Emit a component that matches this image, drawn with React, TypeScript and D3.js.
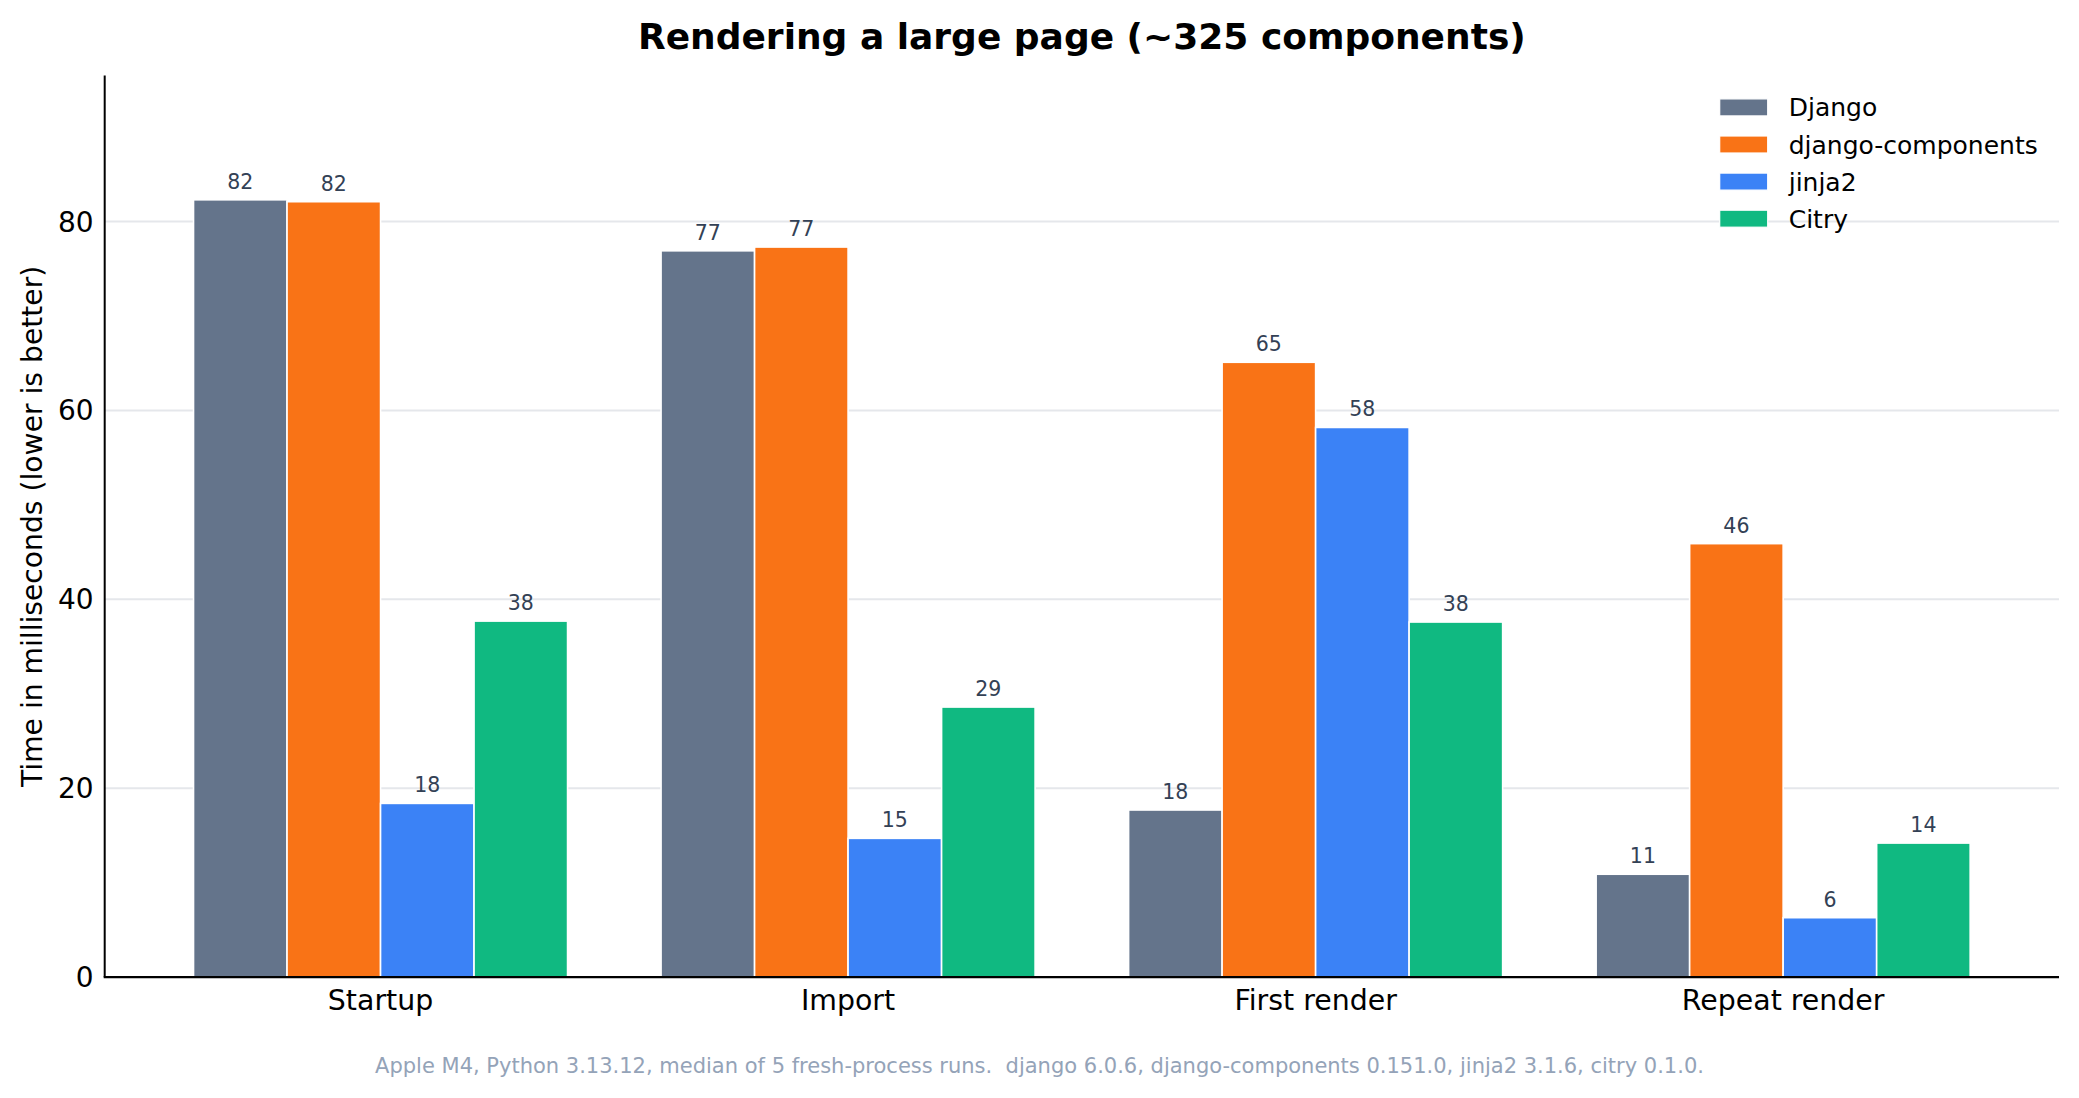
import React, { useEffect } from "react";
import * as d3 from "d3";

const categories = ["Startup", "Import", "First render", "Repeat render"];
const seriesNames = ["Django", "django-components", "jinja2", "Citry"];
const djangoValues = [82.3, 76.9, 17.7, 10.9];
const djangoComponentsValues = [82.1, 77.3, 65.1, 45.9];
const jinja2Values = [18.4, 14.7, 58.2, 6.3];
const citryValues = [37.7, 28.6, 37.6, 14.2];
const seriesColors = ["#64748b", "#f97316", "#3b82f6", "#10b981"];
const yTicks = [0, 20, 40, 60, 80];
const titleText = "Rendering a large page (~325 components)";
const yLabelText = "Time in milliseconds (lower is better)";
const footerText =
  "Apple M4, Python 3.13.12, median of 5 fresh-process runs.  django 6.0.6, django-components 0.151.0, jinja2 3.1.6, citry 0.1.0.";

const W = 2079;
const H = 1098;
const left = 104.7;
const right = 2059;
const top = 75.6;
const bottom = 977.2;
const FONT = "'DejaVu Sans', sans-serif";

export default function App() {
  useEffect(() => {
    document.body.style.margin = "0";
  }, []);

  const series = [djangoValues, djangoComponentsValues, jinja2Values, citryValues];
  const x = d3.scaleLinear().domain([-0.59, 3.59]).range([left, right]);
  const y = d3.scaleLinear().domain([0, 95.45]).range([bottom, top]);
  const barW = 0.2;
  const legendX = 1719.7;
  const legendY0 = 107.4;
  const legendStep = 37.1;

  return (
    <svg
      width={W}
      height={H}
      viewBox={`0 0 ${W} ${H}`}
      style={{ display: "block", position: "absolute", left: 0, top: 0, background: "#fff" }}
      fontFamily={FONT}
    >
      <rect x={0} y={0} width={W} height={H} fill="#fff" />
      {/* grid */}
      {yTicks.filter((t) => t > 0).map((t) => (
        <line key={"g" + t} x1={left} x2={right} y1={y(t)} y2={y(t)} stroke="#e5e7eb" strokeWidth={2} />
      ))}
      {/* bars */}
      {categories.map((c, ci) =>
        series.map((vals, si) => {
          const x0 = x(ci + (si - 2) * barW);
          const x1 = x(ci + (si - 1) * barW);
          return (
            <rect
              key={c + si}
              x={x0}
              y={y(vals[ci])}
              width={x1 - x0}
              height={y(0) - y(vals[ci])}
              fill={seriesColors[si]}
              stroke="#fff"
              strokeWidth={1.6}
            />
          );
        })
      )}
      {/* value labels */}
      {categories.map((c, ci) =>
        series.map((vals, si) => (
          <text
            key={"l" + c + si}
            x={x(ci + (si - 1.5) * barW)}
            y={y(vals[ci]) - 11}
            textAnchor="middle"
            fontSize={20.5}
            fill="#334155"
          >
            {d3.format(".0f")(vals[ci])}
          </text>
        ))
      )}
      {/* spines */}
      <line x1={left} x2={left} y1={top} y2={bottom} stroke="#000" strokeWidth={2} />
      <line x1={left - 1} x2={right} y1={bottom} y2={bottom} stroke="#000" strokeWidth={2.2} />
      {/* y ticks */}
      {yTicks.map((t) => (
        <text key={"yt" + t} x={left - 11} y={y(t) + 10} textAnchor="end" fontSize={28} fill="#000">
          {t}
        </text>
      ))}
      {/* x ticks */}
      {categories.map((c, ci) => (
        <text key={"xt" + c} x={x(ci)} y={1009.5} textAnchor="middle" fontSize={28.4} fill="#000">
          {c}
        </text>
      ))}
      {/* y label */}
      <text
        transform={`translate(42, ${(top + bottom) / 2}) rotate(-90)`}
        textAnchor="middle"
        fontSize={28.2}
        fill="#000"
      >
        {yLabelText}
      </text>
      {/* title */}
      <text x={(left + right) / 2} y={48.5} textAnchor="middle" fontSize={36} fontWeight="bold" fill="#000">
        {titleText}
      </text>
      {/* legend */}
      {seriesNames.map((n, i) => (
        <g key={"lg" + n}>
          <rect
            x={legendX}
            y={legendY0 + i * legendStep - 8.5}
            width={48}
            height={17}
            fill={seriesColors[i]}
            stroke="#fff"
            strokeWidth={1.2}
          />
          <text x={1788.7} y={legendY0 + i * legendStep + 9} fontSize={25} fill="#000">
            {n}
          </text>
        </g>
      ))}
      {/* footer */}
      <text
        x={W / 2}
        y={1073}
        textAnchor="middle"
        fontSize={21}
        fill="#94a3b8"
        style={{ whiteSpace: "pre" }}
        xmlSpace="preserve"
      >
        {footerText}
      </text>
    </svg>
  );
}
